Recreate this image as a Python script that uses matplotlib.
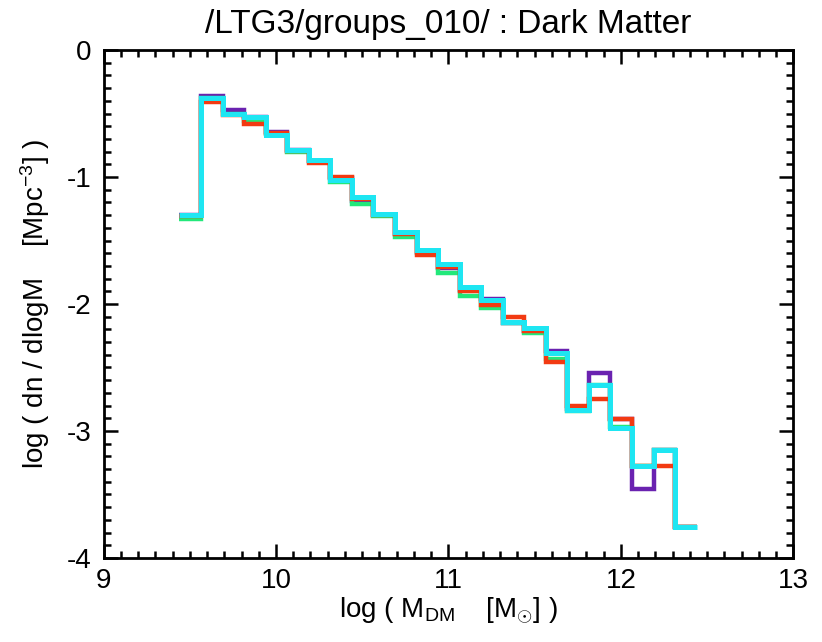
import matplotlib
matplotlib.use('Agg')
import matplotlib.pyplot as plt
from matplotlib.ticker import MultipleLocator

plt.rcParams['font.family'] = ['Liberation Sans', 'DejaVu Sans']
plt.rcParams['mathtext.fontset'] = 'custom'
plt.rcParams['mathtext.rm'] = 'Liberation Sans'
plt.rcParams['mathtext.it'] = 'Liberation Sans'
plt.rcParams['axes.unicode_minus'] = False

# ── Mass function values (log dn/dlogM per bin) ──

bin_edges = [9.44, 9.565, 9.69, 9.815, 9.94, 10.065, 10.19, 10.315, 10.44,
             10.565, 10.69, 10.815, 10.94, 11.065, 11.19, 11.315, 11.44,
             11.565, 11.69, 11.815, 11.94, 12.065, 12.19, 12.315, 12.44]

purple = [-1.30, -0.36, -0.47, -0.53, -0.645, -0.79, -0.87, -1.01, -1.19, -1.30,
          -1.45, -1.59, -1.72, -1.89, -1.96, -2.15, -2.21, -2.37, -2.83, -2.545,
          -2.905, -3.46, -3.15, -3.755]
green = [-1.33, -0.38, -0.50, -0.556, -0.66, -0.80, -0.87, -1.04, -1.21, -1.31,
         -1.47, -1.60, -1.755, -1.94, -2.03, -2.15, -2.225, -2.43, -2.84, -2.64,
         -2.97, -3.275, -3.15, -3.755]
red = [-1.31, -0.41, -0.51, -0.58, -0.655, -0.795, -0.89, -1.00, -1.175, -1.30,
       -1.45, -1.615, -1.71, -1.90, -2.01, -2.10, -2.21, -2.46, -2.80, -2.75,
       -2.905, -3.275, -3.275, -3.755]
cyan = [-1.30, -0.38, -0.50, -0.525, -0.67, -0.79, -0.866, -1.02, -1.155, -1.29,
        -1.43, -1.575, -1.685, -1.87, -1.97, -2.14, -2.19, -2.39, -2.835, -2.64,
        -2.975, -3.275, -3.15, -3.755]

series = [(purple, '#6a22b0', 3.2), (green, '#22e87a', 3.2),
          (red, '#f23a12', 3.2), (cyan, '#1ee6f2', 3.6)]

fig = plt.figure(figsize=(8.22, 6.42), dpi=100)
ax = fig.add_axes([0.126, 0.131, 0.839, 0.791])

for vals, col, lw in series:
    ax.stairs(vals, bin_edges, baseline=None, color=col, linewidth=lw)

ax.set_xlim(9, 13)
ax.set_ylim(-4, 0)
ax.xaxis.set_major_locator(MultipleLocator(1))
ax.xaxis.set_minor_locator(MultipleLocator(0.1))
ax.yaxis.set_major_locator(MultipleLocator(1))
ax.yaxis.set_minor_locator(MultipleLocator(0.1))
ax.tick_params(which='both', direction='in', top=True, right=True, width=1.8,
               labelsize=20, pad=9)
ax.tick_params(axis='x', pad=7)
ax.tick_params(which='major', length=10)
ax.tick_params(which='minor', length=5)
for s in ax.spines.values():
    s.set_linewidth(2)

ax.set_title('/LTG3/groups_010/ : Dark Matter', fontsize=24, pad=12)
ax.set_xlabel(r'log ( $\rm M_{DM}$    [$\rm M_{\odot}$] )', fontsize=20, labelpad=1)
ax.set_ylabel(r'log ( dn / dlogM    [$\rm Mpc^{-3}$] )', fontsize=20, labelpad=10)

fig.savefig('out.png', dpi=100)
